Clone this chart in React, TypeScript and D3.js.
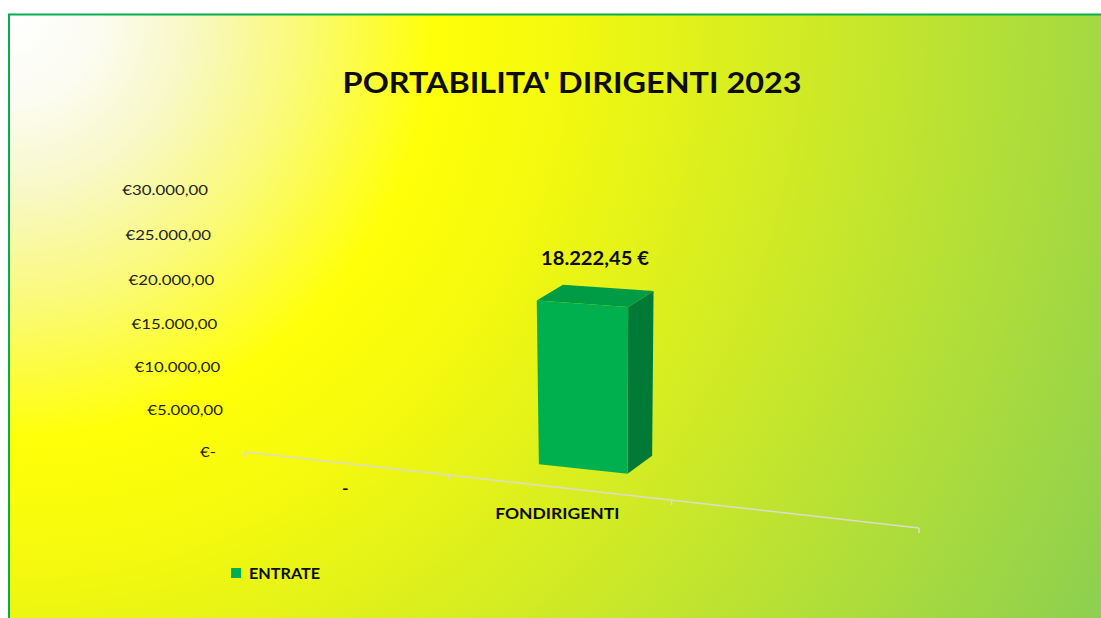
import React from 'react'
import * as d3 from 'd3'

// chart data
const categories = ['-', 'FONDIRIGENTI', '']
const seriesName = 'ENTRATE'
const entrate: (number | null)[] = [null, 18222.45, null]
const yTicks = [0, 5000, 10000, 15000, 20000, 25000, 30000]
const yTickLabels = ['€-', '€5.000,00', '€10.000,00', '€15.000,00', '€20.000,00', '€25.000,00', '€30.000,00']
const dataLabels = ['', '18.222,45 €', '']
const title = "PORTABILITA' DIRIGENTI 2023"

const W = 1101
const H = 618
const FONT = 'Lato, Calibri, sans-serif'
const GREEN = '#00b050'

// 3d perspective: vanishing points of the category, value and depth directions
const VX = [-3965, -23]
const VY = [607, 5700]
const VZ = [2400, -826]
const ORIGIN = [245, 452]
const LX = -0.046
const LY = -0.04755
const LZ = 0.01318

function project(X: number, v: number, z: number): [number, number] {
  const a = LX * X, b = LY * v, c = LZ * z
  const w = 1 + a + b + c
  return [
    (ORIGIN[0] + a * VX[0] + b * VY[0] + c * VZ[0]) / w,
    (ORIGIN[1] + a * VX[1] + b * VY[1] + c * VZ[1]) / w,
  ]
}

function SText({x, y, s = 1.12, anchor = 'start', size, weight = 'normal', fill = '#111', children}: any) {
  return (
    <text transform={`translate(${x},${y}) scale(${s},1)`} textAnchor={anchor}
      fontFamily={FONT} fontSize={size} fontWeight={weight} fill={fill}
      style={{whiteSpace: 'pre'}}>
      {children}
    </text>
  )
}

export default function App() {
  const x = d3.scaleBand<string>().domain(categories).range([0, categories.length])
  const y = d3.scaleLinear().domain([0, 30000]).range([0, 1])
  const barPad = 0.3
  const zFront = 1, zBack = 2

  const poly = d3.line<[number, number]>().x(d => d[0]).y(d => d[1])
  const face = (pts: [number, number, number][]) => poly(pts.map(p => project(p[0], p[1], p[2])))! + 'Z'

  const floorStart = project(0, 0, 0)
  const floorEnd = project(categories.length, 0, 0)
  const tickPos = [...categories.map(c => x(c)!), categories.length]

  return (
    <svg width={W} height={H} style={{position: 'absolute', left: 0, top: 0}}>
      <defs>
        <radialGradient id="bg" gradientUnits="userSpaceOnUse" cx={10} cy={15} r={1250}>
          <stop offset="0" stopColor="#ffffff" />
          <stop offset="0.07" stopColor="#fcfcf2" />
          <stop offset="0.14" stopColor="#f8f8c8" />
          <stop offset="0.23" stopColor="#fafa7a" />
          <stop offset="0.34" stopColor="#ffff08" />
          <stop offset="0.44" stopColor="#f4f90e" />
          <stop offset="1" stopColor="#8ccf50" />
        </radialGradient>
      </defs>
      <rect x={0} y={0} width={W} height={H} fill="#ffffff" />
      <rect x={9} y={14.5} width={W + 20} height={H + 20} fill="url(#bg)" stroke={GREEN} strokeWidth={2} />

      <SText x={572} y={92.5} size={29} weight="bold" s={1.115} anchor="middle" fill="#0d0d0d">{title}</SText>

      {/* value axis labels */}
      {yTicks.map((t, i) => {
        const [px, py] = project(0, y(t), 0)
        return (
          <SText key={t} x={px - 19 - (t === 0 ? 10 : 0)} y={py + 5} size={14} s={1.2} anchor="end" fill="#1f1f1f">
            {yTickLabels[i]}
          </SText>
        )
      })}

      {/* floor edge */}
      <line x1={floorStart[0]} y1={floorStart[1]} x2={floorEnd[0]} y2={floorEnd[1]} stroke="#dcdcd0" strokeWidth={1.5} />
      {tickPos.map(t => {
        const [px, py] = project(t, 0, 0)
        return <line key={t} x1={px} y1={py} x2={px} y2={py + 5} stroke="#dcdcd0" strokeWidth={1.5} />
      })}

      {/* category labels */}
      {categories.map(c => {
        const [px, py] = project(x(c)! + x.bandwidth() / 2, -0.1, 0)
        return <SText key={c} x={px} y={py + 5.5} size={15.5} weight="bold" s={1.13} anchor="middle" fill="#0d0d0d">{c}</SText>
      })}

      {/* 3d bars */}
      {categories.map((c, i) => {
        const val = entrate[i]
        if (val == null) return null
        const x0 = x(c)! + barPad, x1 = x(c)! + x.bandwidth() - barPad
        const v = y(val)
        const [lx, ly] = project(x(c)! + x.bandwidth() / 2, v, (zFront + zBack) / 2)
        return (
          <g key={c}>
            <path d={face([[x1, 0, zFront], [x1, 0, zBack], [x1, v, zBack], [x1, v, zFront]])} fill="#007a36" />
            <path d={face([[x0, v, zFront], [x1, v, zFront], [x1, v, zBack], [x0, v, zBack]])} fill="#009c45" />
            <path d={face([[x0, 0, zFront], [x1, 0, zFront], [x1, v, zFront], [x0, v, zFront]])} fill="#00b04f" />
            <SText x={lx} y={ly - 31} size={18} weight="bold" s={1.12} anchor="middle" fill="#0d0d0d">{dataLabels[i]}</SText>
          </g>
        )
      })}

      {/* legend */}
      <rect x={231} y={568} width={10} height={10} fill={GREEN} />
      <SText x={249} y={578.5} size={15} weight="bold" s={1.08} fill="#0d0d0d">{seriesName}</SText>
    </svg>
  )
}
